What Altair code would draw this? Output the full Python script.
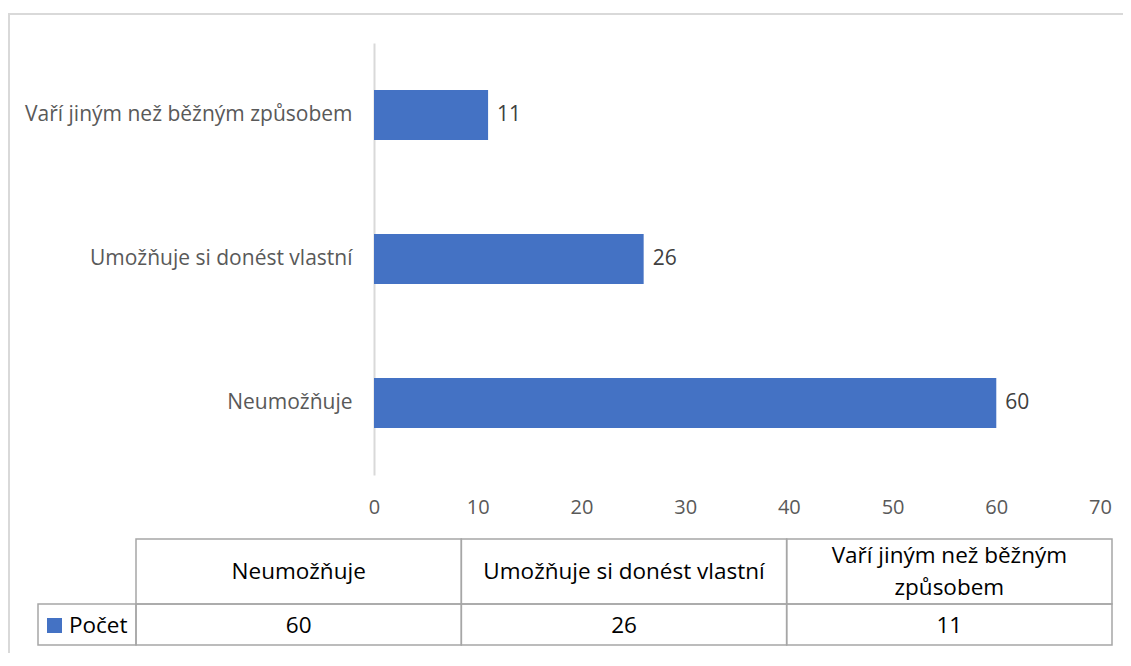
import altair as alt
import pandas as pd

# ---- data ----
categories = ["Neumožňuje", "Umožňuje si donést vlastní", "Vaří jiným než běžným způsobem"]
counts = [60, 26, 11]
series_name = "Počet"
x_ticks = [0, 10, 20, 30, 40, 50, 60, 70]
header_lines = [["Neumožňuje"], ["Umožňuje si donést vlastní"], ["Vaří jiným než běžným", "způsobem"]]

df = pd.DataFrame({"category": categories, "count": counts, "header": header_lines})
df_legend = pd.DataFrame({"series": [series_name]})

W, H = 1115, 645
FONT = "Open Sans"
BLUE = "#4472C4"
GRID = "#a6a6a6"

xs = alt.Scale(domain=[0, 70], range=[366, 1092], nice=False, zero=True)
ys = alt.Scale(domain=list(reversed(categories)), range=[35, 467],
               paddingInner=0.653, paddingOuter=0.3265)
ts = alt.Scale(domain=categories, range=[128, 1104], paddingInner=0, paddingOuter=0)

bars = alt.Chart(df).mark_bar(color=BLUE).encode(
    x=alt.X("count:Q", scale=xs, title=None,
            axis=alt.Axis(values=x_ticks, offset=-(H - 467), domain=False, ticks=False,
                          grid=False, labelPadding=22, labelFontSize=20, labelFlush=False,
                          labelColor="#595959", labelFont=FONT)),
    y=alt.Y("category:N", scale=ys, title=None, sort=None,
            axis=alt.Axis(offset=-366, domain=True, domainColor="#d9d9d9", domainWidth=2,
                          ticks=False, grid=False, labelPadding=22, labelFontSize=21,
                          labelColor="#595959", labelFont=FONT, labelLimit=0)),
)

bar_labels = alt.Chart(df).mark_text(align="left", baseline="middle", dx=9,
                                     fontSize=21, font=FONT, color="#404040").encode(
    x=alt.X("count:Q", scale=xs, axis=None),
    y=alt.Y("category:N", scale=ys, axis=None, sort=None),
    text="count:Q",
)

# outer frame (top & left edges visible in the reference)
frame_top = alt.Chart(df_legend).mark_rule(color="#d9d9d9", strokeWidth=2).encode(
    x=alt.value(0), x2=alt.value(W), y=alt.value(6))
frame_left = alt.Chart(df_legend).mark_rule(color="#d9d9d9", strokeWidth=2).encode(
    x=alt.value(1), y=alt.value(6), y2=alt.value(H))

# data table
head_cells = alt.Chart(df).mark_rect(fill=None, stroke=GRID, strokeWidth=1.5).encode(
    x=alt.X("category:N", scale=ts, axis=None, sort=None),
    y=alt.value(531), y2=alt.value(596))
val_cells = alt.Chart(df).mark_rect(fill=None, stroke=GRID, strokeWidth=1.5).encode(
    x=alt.X("category:N", scale=ts, axis=None, sort=None),
    y=alt.value(596), y2=alt.value(637))
head_text = alt.Chart(df).transform_calculate(
    nlines="length(datum.header)"
).mark_text(baseline="middle", fontSize=22.5, font=FONT,
            color="#000000", lineHeight=32).encode(
    x=alt.X("category:N", scale=ts, axis=None, sort=None),
    y=alt.Y("nlines:Q", scale=alt.Scale(domain=[1, 2], range=[564, 548]), axis=None),
    text="header")
val_text = alt.Chart(df).mark_text(baseline="middle", fontSize=22.5, font=FONT,
                                   color="#000000").encode(
    x=alt.X("category:N", scale=ts, axis=None, sort=None),
    y=alt.value(618), text="count:Q")

legend_cell = alt.Chart(df_legend).mark_rect(fill=None, stroke=GRID, strokeWidth=1.5).encode(
    x=alt.value(30), x2=alt.value(128), y=alt.value(596), y2=alt.value(637))
legend_sq = alt.Chart(df_legend).mark_square(color=BLUE, opacity=1, size=225).encode(
    x=alt.value(46.5), y=alt.value(617.5))
legend_txt = alt.Chart(df_legend).mark_text(align="left", baseline="middle", fontSize=22.5,
                                            font=FONT, color="#000000").encode(
    x=alt.value(61), y=alt.value(618), text="series:N")

chart = alt.layer(
    frame_top, frame_left, bars, bar_labels,
    head_cells, val_cells, head_text, val_text,
    legend_cell, legend_sq, legend_txt,
).resolve_scale(x="independent", y="independent").properties(
    width=W, height=H,
    autosize=alt.AutoSizeParams(type="none"),
    padding=0,
    background="white",
).configure_view(stroke=None)

chart.save("out.html", embed_options={"renderer": "svg", "actions": False})
